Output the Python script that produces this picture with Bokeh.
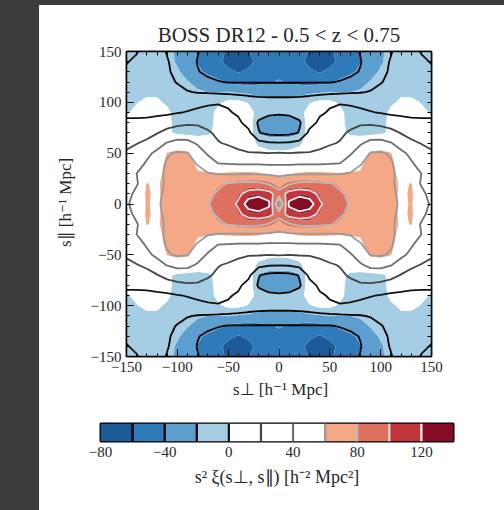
import numpy as np
from bokeh.plotting import figure
from bokeh.models import Range1d, FixedTicker, LinearAxis
from bokeh.layouts import column
from bokeh.embed import file_html
from bokeh.resources import INLINE

# ---------------- data (one quadrant, mirrored by symmetry) ----------------
# grid coordinates [h^-1 Mpc] for s_perp (columns) and s_par (rows), 0..150
s_grid = [0, 10, 20, 30, 40, 50, 60, 70, 80, 90, 100, 110, 120, 130, 140, 150]

# measured s^2 xi (filled contours), one list per s_par row
data_s000 = [50, 122, 136, 133, 105, 93, 89, 79, 70, 72, 72, 70, 55, 62, 45, 35]
data_s010 = [90, 113, 119, 116, 99, 91, 85, 76, 70, 72, 72, 70, 55, 63, 45, 35]
data_s020 = [74, 85, 89, 89, 86, 83, 77, 72, 70, 72, 72, 70, 56, 61, 45, 35]
data_s030 = [57, 58, 62, 63, 63, 62, 61, 62, 62, 70, 72, 70, 50, 45, 40, 33]
data_s040 = [40, 40, 41, 41, 41, 42, 43, 45, 55, 70, 72, 66, 48, 40, 33, 28]
data_s050 = [3, 4, 8, 15, 20, 25, 30, 35, 45, 63, 64, 61, 40, 32, 26, 22]
data_s060 = [-8, -8, -4, 10, 18, 20, 22, 25, 30, 45, 50, 40, 30, 22, 17, 14]
data_s070 = [-30, -28, -22, 16, 22, 22, 12, -8, -13, -12, -8, 8, 12, 12, 10, 8]
data_s080 = [-33, -32, -25, 16, 22, 22, 10, -12, -16, -15, -10, 8, 12, 10, 8, 5]
data_s090 = [-15, -14, -10, 12, 18, 18, 8, -12, -17, -17, -12, 6, 10, 8, 5, -2]
data_s100 = [-12, -12, -10, -2, 5, 5, -4, -15, -18, -17, -13, -4, 4, 5, -1, -5]
data_s110 = [-25, -26, -26, -24, -22, -19, -21, -20, -18, -14, -10, -6, -4, -5, -8, -10]
data_s120 = [-38, -42, -45, -48, -46, -42, -36, -30, -25, -19, -13, -8, -6, -4, -6, -10]
data_s130 = [-46, -50, -54, -58, -61, -57, -50, -44, -36, -26, -18, -12, -8, -4, -3, -6]
data_s140 = [-50, -52, -57, -63, -67, -64, -57, -49, -41, -31, -22, -15, -10, -5, -3, -2]
data_s150 = [-46, -48, -52, -61, -65, -62, -56, -48, -38, -30, -22, -16, -10, -6, -4, -2]

# model s^2 xi (contour lines), one list per s_par row
model_s000 = [50, 125, 140, 132, 103, 92, 85, 79, 75, 71, 68, 64, 58, 52, 46, 38]
model_s010 = [88, 108, 112, 108, 96, 88, 82, 77, 73, 70, 67, 63, 57, 50, 43, 36]
model_s020 = [68, 78, 84, 85, 83, 81, 77, 73, 70, 68, 66, 62, 56, 47, 39, 34]
model_s030 = [57, 57, 58, 58, 58, 58, 59, 61, 64, 66, 66, 63, 55, 47, 40, 33]
model_s040 = [37, 37, 38, 38, 38, 39, 40, 48, 59, 64, 65, 62, 52, 42, 33, 27]
model_s050 = [21, 20, 21, 21, 23, 27, 33, 38, 48, 61, 62, 58, 44, 36, 29, 22]
model_s060 = [1, 2, 6, 11, 15, 18, 21, 30, 38, 44, 45, 41, 32, 24, 19, 16]
model_s070 = [-26, -25, -19, 5, 10, 13, 17, 22, 28, 31, 30, 27, 19, 13, 9, 7]
model_s080 = [-28, -27, -22, -8, 4, 9, 12, 15, 17, 17, 15, 10, 7, 5, 4, 4]
model_s090 = [-18, -17, -14, -9, -3, 2, 4, 4, 3, 1, -1, -3, -4, -5, -5, -5]
model_s100 = [-13, -13, -12, -10, -6, -3, -1, -2, -4, -6, -8, -9, -9, -8, -7, -6]
model_s110 = [-27, -27, -27, -26, -25, -24, -23, -22, -21, -19, -15, -12, -10, -9, -8, -7]
model_s120 = [-41, -41, -41, -41, -41, -41, -39, -36, -31, -26, -21, -16, -12, -10, -8, -6]
model_s130 = [-50, -50, -50, -50, -50, -49, -47, -44, -39, -31, -24, -18, -13, -9, -6, -3]
model_s140 = [-56, -56, -56, -56, -55, -54, -52, -47, -41, -32, -25, -19, -14, -8, -3, 1]
model_s150 = [-58, -58, -58, -58, -57, -56, -53, -47, -39, -31, -25, -21, -14, -6, 1, 4]

levels = [-80, -60, -40, -20, 0, 20, 40, 60, 80, 100, 120, 140]
fill_colors = ["#1d5a98", "#2f7bba", "#5c9fcf", "#a5cee5", "#ffffff", "#ffffff",
               "#ffffff", "#f4a886", "#dd705e", "#c1353b", "#860c25"]
line_colors = ["#000000", "#000000", "#000000", "#000000", "#111111", "#444444",
               "#6e6e6e", "#999999", "#bbbbbb", "#dddddd", "#ffffff", "#ffffff"]

axis_ticks = [-150, -100, -50, 0, 50, 100, 150]
minor_ticks = list(range(-150, 151, 10))
cbar_ticks = [-80, -40, 0, 40, 80, 120]

title_text = "BOSS DR12 - 0.5 < z < 0.75"
xlabel = "s\u22a5 [h\u207b\u00b9 Mpc]"
ylabel = "s\u2225 [h\u207b\u00b9 Mpc]"
cbar_label = "s\u00b2 \u03be(s\u22a5, s\u2225) [h\u207b\u00b2 Mpc\u00b2]"

# ---------------- build mirrored grids ----------------
def full_grid(rows):
    q = np.array(rows, dtype=float)
    q = np.concatenate([q[:0:-1, :], q], axis=0)
    q = np.concatenate([q[:, :0:-1], q], axis=1)
    return q

data_rows = [data_s000, data_s010, data_s020, data_s030, data_s040, data_s050,
             data_s060, data_s070, data_s080, data_s090, data_s100, data_s110,
             data_s120, data_s130, data_s140, data_s150]
model_rows = [model_s000, model_s010, model_s020, model_s030, model_s040, model_s050,
              model_s060, model_s070, model_s080, model_s090, model_s100, model_s110,
              model_s120, model_s130, model_s140, model_s150]

s_full = np.array([-v for v in s_grid[:0:-1]] + s_grid, dtype=float)
Z_data = full_grid(data_rows)
Z_model = full_grid(model_rows)

FONT = "Liberation Serif"
TXT = "#262626"

def lab(v):
    return str(v).replace("-", "\u2212")

# ---------------- main figure ----------------
p = figure(width=465, height=400, output_backend="svg", toolbar_location=None,
           x_range=Range1d(-150, 150), y_range=Range1d(-150, 150),
           min_border_left=87, min_border_right=73, min_border_top=46,
           min_border_bottom=49, title=title_text, frame_align=False)
p.margin = (5, 0, 0, 39)
p.background_fill_color = "white"
p.border_fill_color = "white"
p.outline_line_color = "black"
p.outline_line_width = 1.5
p.grid.visible = False

p.title.text_font = FONT
p.title.text_font_size = "21px"
p.title.text_font_style = "normal"
p.title.text_color = TXT
p.title.align = "center"

p.contour(x=s_full, y=s_full, z=Z_data, levels=levels,
          fill_color=fill_colors, line_color=None)
p.contour(x=s_full, y=s_full, z=Z_model, levels=levels,
          fill_color=None, line_color=line_colors, line_width=1.8)

def style_axis(ax, show_labels=True):
    ax.major_tick_in = 7
    ax.major_tick_out = 0
    ax.minor_tick_in = 3
    ax.minor_tick_out = 0
    ax.major_tick_line_color = "black"
    ax.minor_tick_line_color = "black"
    ax.axis_line_color = "black"
    ax.axis_line_width = 1.5
    if show_labels:
        ax.ticker = FixedTicker(ticks=axis_ticks, minor_ticks=minor_ticks)
        ax.major_label_text_font = FONT
        ax.major_label_text_font_size = "15px"
        ax.major_label_text_color = TXT
        ax.major_label_standoff = 5
        ax.major_label_overrides = {float(t): lab(t) for t in axis_ticks}
        ax.axis_label_text_font = FONT
        ax.axis_label_text_font_size = "17px"
        ax.axis_label_text_font_style = "normal"
        ax.axis_label_text_color = TXT
    else:
        # tick marks only (no labels) on the top and right edges
        ax.ticker = FixedTicker(ticks=[], minor_ticks=minor_ticks)
        ax.minor_tick_in = 4
        ax.major_label_standoff = 0

style_axis(p.xaxis[0])
style_axis(p.yaxis[0])
p.xaxis[0].axis_label = xlabel
p.xaxis[0].axis_label_standoff = 5
p.yaxis[0].axis_label = ylabel
p.yaxis[0].axis_label_standoff = 13
p.yaxis[0].major_label_orientation = "horizontal"

top_ax = LinearAxis()
right_ax = LinearAxis()
style_axis(top_ax, show_labels=False)
style_axis(right_ax, show_labels=False)
p.add_layout(top_ax, "above")
p.add_layout(right_ax, "right")

# ---------------- colour bar ----------------
cb = figure(width=465, height=105, output_backend="svg", toolbar_location=None,
            x_range=Range1d(levels[0], levels[-1]), y_range=Range1d(0, 1),
            min_border_left=61, min_border_right=51, min_border_top=18,
            min_border_bottom=69, y_axis_location=None, frame_align=False)
cb.margin = (0, 0, 0, 39)
cb.grid.visible = False
cb.background_fill_color = "white"
cb.border_fill_color = "white"
cb.outline_line_color = "black"
cb.outline_line_width = 2

cb.quad(left=levels[:-1], right=levels[1:], bottom=0, top=1,
        fill_color=fill_colors, line_color=None)
cb.segment(x0=levels[1:-1], y0=0, x1=levels[1:-1], y1=1,
           line_color=line_colors[1:-1], line_width=2.2)

cax = cb.xaxis[0]
cax.ticker = FixedTicker(ticks=cbar_ticks)
cax.major_label_overrides = {float(t): lab(t) for t in cbar_ticks}
cax.major_tick_in = 0
cax.major_tick_out = 0
cax.minor_tick_in = 0
cax.minor_tick_out = 0
cax.axis_line_color = None
cax.major_label_text_font = FONT
cax.major_label_text_font_size = "15px"
cax.major_label_text_color = TXT
cax.major_label_standoff = 5
cax.axis_label = cbar_label
cax.axis_label_text_font = FONT
cax.axis_label_text_font_size = "18px"
cax.axis_label_text_font_style = "normal"
cax.axis_label_text_color = TXT
cax.axis_label_standoff = 7

bg = ("linear-gradient(to bottom, #3c3c3c 5px, rgba(0,0,0,0) 5px), "
      "linear-gradient(to right, #3c3c3c 39px, #ffffff 39px)")
layout = column(p, cb, spacing=0, styles={"background": bg})

open("out.html", "w").write(file_html(layout, INLINE))
